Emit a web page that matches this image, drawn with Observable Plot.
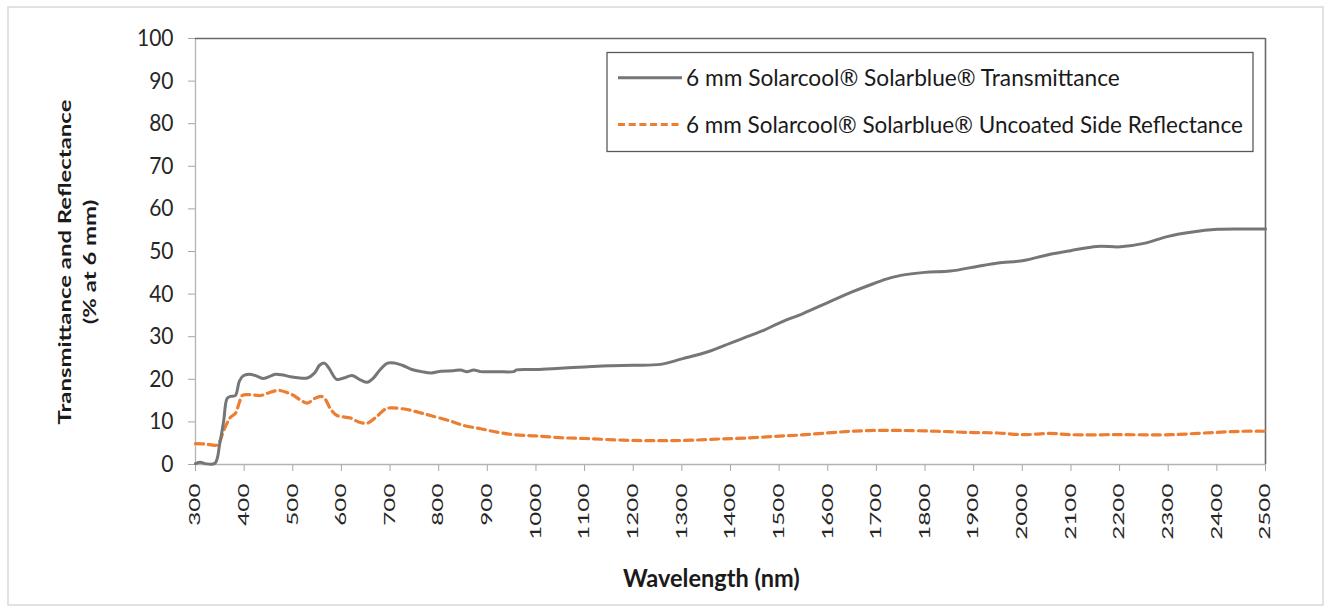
<!DOCTYPE html>
<html>
<head>
<meta charset="utf-8">
<script src="https://cdn.jsdelivr.net/npm/d3@7"></script>
<script src="https://cdn.jsdelivr.net/npm/@observablehq/plot@0.6"></script>
<style>
  html, body { margin: 0; padding: 0; background: #fff; }
  #chart svg { display: block; }
</style>
</head>
<body>
<div id="chart"></div>
<script>
// ---- Data ----
const transWavelength = [300,310,320,340,350,358,365,372,382,390,398,410,425,440,455,465,480,495,515,530,545,555,565,575,590,605,622,640,653,665,680,695,710,725,745,765,785,805,830,845,858,872,886,920,954,960,1000,1050,1100,1150,1200,1256,1300,1352,1400,1434,1468,1500,1550,1600,1650,1688,1720,1750,1800,1852,1907,1950,2003,2051,2099,2154,2202,2250,2298,2346,2401,2450,2500];
const transValues = [0.2,0.5,0.2,0.3,5,10.3,15.5,16,16.2,19.5,20.8,21.2,20.8,20.2,20.8,21.2,21,20.6,20.3,20.3,21.5,23.3,23.8,22.5,20.0,20.3,20.9,19.8,19.3,20.2,22.3,23.8,23.8,23.3,22.3,21.8,21.5,21.9,22.0,22.2,21.8,22.2,21.8,21.8,21.8,22.2,22.3,22.6,22.9,23.2,23.3,23.5,24.8,26.4,28.5,30.0,31.5,33.2,35.5,38,40.5,42.2,43.5,44.4,45.1,45.4,46.5,47.3,47.9,49.2,50.2,51.2,51.1,51.9,53.5,54.5,55.2,55.3,55.3];

const reflWavelength = [300,320,345,352,358,372,382,390,396,410,434,450,471,490,502,515,530,545,557,565,578,591,619,635,653,670,690,701,735,760,783,824,850,886,920,954,1000,1050,1100,1160,1220,1270,1320,1379,1430,1489,1540,1599,1650,1700,1750,1825,1900,1950,2003,2055,2100,2200,2306,2360,2408,2450,2500];
const reflValues = [4.9,4.8,4.6,6,8,11.1,12,14.5,16.2,16.4,16.2,16.8,17.4,16.8,16.2,15.2,14.4,15.5,16.0,15.6,13,11.5,10.9,10.0,9.7,11,13,13.3,12.9,12.2,11.5,10.2,9.2,8.4,7.6,7.0,6.7,6.3,6.1,5.8,5.6,5.6,5.7,6.0,6.2,6.6,6.9,7.4,7.8,8.0,8.0,7.8,7.5,7.4,7.0,7.3,7.0,7.0,7.0,7.3,7.6,7.8,7.8];

const xTicks = d3.range(300, 2501, 100);
const yTicks = d3.range(0, 101, 10);
const seriesNames = [
  "6 mm Solarcool\u00AE Solarblue\u00AE Transmittance",
  "6 mm Solarcool\u00AE Solarblue\u00AE Uncoated Side Reflectance"
];
const xTitle = "Wavelength (nm)";
const yTitleLines = ["Transmittance and Reflectance", "(% at 6 mm)"];

const transData = transWavelength.map((w, i) => ({w, v: transValues[i]}));
const reflData = reflWavelength.map((w, i) => ({w, v: reflValues[i]}));

const grayColor = "#767676";
const orangeColor = "#ed7d31";
const font = "Lato, 'Open Sans', sans-serif";

const W = 1327, H = 611;
const chart = Plot.plot({
  width: W,
  height: H,
  marginLeft: 195,
  marginRight: 62,
  marginTop: 38,
  marginBottom: 147,
  style: {fontFamily: font, color: "#262626", background: "transparent"},
  x: {domain: [300, 2500], label: null},
  y: {domain: [0, 100], label: null},
  marks: [
    Plot.axisY({ticks: yTicks, tickSize: 7, tickPadding: 15, stroke: "#a6a6a6", fill: "#262626", fontSize: 21, fontFamily: font, label: null}),
    Plot.axisX({ticks: xTicks, tickFormat: d3.format("d"), tickSize: 7, tickPadding: 12, tickRotate: -90, stroke: "#a6a6a6", fill: "#262626", fontSize: 15, fontFamily: font, label: null}),
    Plot.ruleX([300], {stroke: "#b3b3b3", strokeWidth: 1.3}),
    Plot.ruleY([0], {stroke: "#b3b3b3", strokeWidth: 1.3}),
    Plot.ruleY([100], {stroke: "#6a6a6a", strokeWidth: 1.6}),
    Plot.ruleX([2500], {stroke: "#6a6a6a", strokeWidth: 1.6}),
    Plot.line(reflData, {x: "w", y: "v", stroke: orangeColor, strokeWidth: 3.2, strokeDasharray: "8,5", curve: "catmull-rom"}),
    Plot.line(transData, {x: "w", y: "v", stroke: grayColor, strokeWidth: 3, curve: "catmull-rom"})
  ]
});

document.getElementById("chart").appendChild(chart);
const svg = d3.select(chart);

// Stretch tick labels to match the reference's glyph proportions
svg.selectAll('g[aria-label="y-axis tick label"] text').each(function() {
  const t = d3.select(this);
  t.attr("transform", (t.attr("transform") || "") + " scale(1,1.1)");
});
svg.selectAll('g[aria-label="x-axis tick label"] text').each(function() {
  const t = d3.select(this);
  t.attr("transform", (t.attr("transform") || "") + " scale(1.62,1)");
});

// Outer border
svg.insert("rect", ":first-child")
  .attr("x", 8).attr("y", 7).attr("width", 1315).attr("height", 598)
  .attr("fill", "#fff").attr("stroke", "#d9d9d9").attr("stroke-width", 1.5);

// helper: text fitted to a target width with a vertical stretch
function fitted(parent, str, {x, y, width, sy = 1, size, weight = "normal", anchor = "start", rotate = 0, sxOverride}) {
  const t = parent.append("text")
    .attr("font-family", font).attr("font-size", size).attr("font-weight", weight)
    .attr("fill", "#1a1a1a").attr("text-anchor", anchor).text(str);
  const natural = t.node().getComputedTextLength();
  const sx = sxOverride || (width ? width / natural : 1);
  t.attr("transform", `translate(${x},${y}) rotate(${rotate}) scale(${sx},${sy})`);
  return sx;
}

// Axis titles
fitted(svg, xTitle, {x: 623, y: 587, width: 177, sy: 1.19, size: 20, weight: "bold"});
const ySx = fitted(svg, yTitleLines[0], {x: 65 + 6, y: 262, width: 325, size: 17, weight: "bold", anchor: "middle", rotate: -90});
fitted(svg, yTitleLines[1], {x: 90 + 6, y: 262, size: 17, weight: "bold", anchor: "middle", rotate: -90, sxOverride: ySx});

// Legend
const lg = svg.append("g");
lg.append("rect").attr("x", 607).attr("y", 52.5).attr("width", 646).attr("height", 99)
  .attr("fill", "#fff").attr("stroke", "#595959").attr("stroke-width", 1.3);
const items = [
  {name: seriesNames[0], color: grayColor, dash: null, y: 77.7, width: 434},
  {name: seriesNames[1], color: orangeColor, dash: "7,3.7", y: 124.5, width: 557}
];
items.forEach(it => {
  const l = lg.append("line").attr("x1", 618).attr("x2", 682).attr("y1", it.y).attr("y2", it.y)
    .attr("stroke", it.color).attr("stroke-width", 3);
  if (it.dash) l.attr("stroke-dasharray", it.dash);
  fitted(lg, it.name, {x: 686, y: it.y + 8, width: it.width, sy: 1.12, size: 20});
});
</script>
</body>
</html>
